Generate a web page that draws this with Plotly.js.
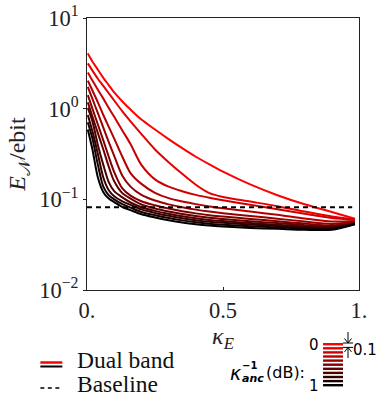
<!DOCTYPE html>
<html><head><meta charset="utf-8">
<script src="https://cdn.plot.ly/plotly-3.0.1.min.js"></script>
<style>html,body{margin:0;padding:0;background:#fff}</style>
</head><body><div id="chart" style="width:377px;height:396px"></div>
<script>
// kappa_E sample points (shared by all curves)
const kappaE = [0.003, 0.02, 0.04, 0.06, 0.08, 0.1, 0.13, 0.16, 0.2, 0.25, 0.3, 0.35, 0.4, 0.45, 0.5, 0.6, 0.7, 0.8, 0.9, 0.985];
// kappa_anc^-1 in dB for each curve
const ancDB = [0, 0.1, 0.2, 0.3, 0.4, 0.5, 0.6, 0.7, 0.8, 0.9, 1.0];
// E_N / ebit for each curve
const EN_00 = [4.07, 3.31, 2.69, 2.19, 1.82, 1.51, 1.20, 0.977, 0.759, 0.589, 0.462, 0.367, 0.295, 0.243, 0.202, 0.146, 0.111, 0.0881, 0.0724, 0.0610];
const EN_01 = [3.16, 2.63, 2.14, 1.78, 1.48, 1.23, 0.933, 0.724, 0.525, 0.355, 0.257, 0.191, 0.145, 0.117, 0.106, 0.0944, 0.0841, 0.0733, 0.0646, 0.0603];
const EN_02 = [2.51, 2.04, 1.62, 1.29, 1.02, 0.813, 0.575, 0.407, 0.240, 0.166, 0.138, 0.123, 0.112, 0.104, 0.0977, 0.0871, 0.0776, 0.0692, 0.0624, 0.0596];
const EN_03 = [2.04, 1.585, 1.175, 0.851, 0.631, 0.468, 0.295, 0.195, 0.148, 0.118, 0.103, 0.0945, 0.0885, 0.0836, 0.0798, 0.0733, 0.0675, 0.0614, 0.0569, 0.0575];
const EN_04 = [1.74, 1.28, 0.891, 0.617, 0.427, 0.302, 0.182, 0.138, 0.112, 0.0970, 0.0880, 0.0818, 0.0770, 0.0733, 0.0703, 0.0655, 0.0612, 0.0569, 0.0536, 0.0561];
const EN_05 = [1.41, 1.00, 0.668, 0.447, 0.295, 0.200, 0.132, 0.110, 0.0953, 0.0859, 0.0791, 0.0740, 0.0700, 0.0668, 0.0646, 0.0607, 0.0574, 0.0540, 0.0516, 0.0553];
const EN_06 = [1.175, 0.820, 0.537, 0.355, 0.229, 0.158, 0.117, 0.102, 0.0877, 0.0794, 0.0735, 0.0689, 0.0653, 0.0625, 0.0607, 0.0574, 0.0547, 0.0519, 0.0502, 0.0548];
const EN_07 = [1.02, 0.724, 0.398, 0.240, 0.155, 0.123, 0.105, 0.0923, 0.0818, 0.0746, 0.0692, 0.0649, 0.0617, 0.0592, 0.0575, 0.0547, 0.0525, 0.0502, 0.0491, 0.0543];
const EN_08 = [0.851, 0.562, 0.316, 0.174, 0.126, 0.108, 0.0951, 0.0867, 0.0774, 0.0708, 0.0658, 0.0618, 0.0589, 0.0566, 0.0551, 0.0527, 0.0508, 0.0490, 0.0482, 0.0540];
const EN_09 = [0.708, 0.468, 0.240, 0.138, 0.111, 0.100, 0.0883, 0.0811, 0.0726, 0.0668, 0.0622, 0.0586, 0.0558, 0.0538, 0.0525, 0.0505, 0.0490, 0.0475, 0.0472, 0.0535];
const EN_10 = [0.589, 0.355, 0.174, 0.120, 0.102, 0.0933, 0.0822, 0.0759, 0.0684, 0.0631, 0.0589, 0.0556, 0.0531, 0.0513, 0.0501, 0.0484, 0.0473, 0.0462, 0.0462, 0.0531];
const curves = [EN_00, EN_01, EN_02, EN_03, EN_04, EN_05, EN_06, EN_07, EN_08, EN_09, EN_10];
// baseline
const baselineK = [0, 0.975];
const baselineEN = [0.082, 0.082];
// ticks
const yTickVals = [0.01, 0.1, 1, 10];
const yTickText = ["10<sup>−2</sup>", "10<sup>−1</sup>", "10<sup>0</sup>", "10<sup>1</sup>"];
const xTickVals = [0, 0.5, 1];
const xTickText = ["0.", "0.5", "1."];
const legendLabels = ["Dual band", "Baseline"];

const colorOf = d => `rgb(${Math.round(255 * (1 - d))},0,0)`;

const traces = curves.map((ys, i) => ({
  x: kappaE, y: ys, type: 'scatter', mode: 'lines',
  line: {color: colorOf(ancDB[i]), width: 2, shape: 'spline', smoothing: 0.8},
  showlegend: false, hoverinfo: 'skip'
}));
traces.push({
  x: baselineK, y: baselineEN, type: 'scatter', mode: 'lines',
  line: {color: '#000', width: 2, dash: '5px,4px'}, showlegend: false
});

// pixel -> paper helpers for the hand-drawn legend
const L = 86.7, R = 359, T = 18, B = 290;
const X = px => (px - L) / (R - L);
const Y = py => (B - py) / (B - T);

const serif = 'Liberation Serif';
const sans = 'DejaVu Sans';

const shapes = [];
const annotations = [];
// Dual band icon
shapes.push({type: 'line', xref: 'paper', yref: 'paper', x0: X(40), x1: X(62), y0: Y(362.5), y1: Y(362.5), line: {color: '#ff0000', width: 2.5}});
shapes.push({type: 'line', xref: 'paper', yref: 'paper', x0: X(40), x1: X(62), y0: Y(366.5), y1: Y(366.5), line: {color: '#000', width: 2}});
// Baseline icon
shapes.push({type: 'line', xref: 'paper', yref: 'paper', x0: X(40), x1: X(61), y0: Y(388), y1: Y(388), line: {color: '#000', width: 1.6, dash: '4px,3.5px'}});
annotations.push({xref: 'paper', yref: 'paper', x: X(75), y: Y(360), xanchor: 'left', yanchor: 'middle', showarrow: false, text: legendLabels[0], font: {family: serif, size: 23.5, color: '#111'}});
annotations.push({xref: 'paper', yref: 'paper', x: X(75), y: Y(384), xanchor: 'left', yanchor: 'middle', showarrow: false, text: legendLabels[1], font: {family: serif, size: 23.5, color: '#111'}});

// color key bars
ancDB.forEach((d, i) => {
  const y0 = 343 + 4.1 * i;
  shapes.push({type: 'rect', xref: 'paper', yref: 'paper', x0: X(323), x1: X(343), y0: Y(y0), y1: Y(y0 + 2.4), line: {width: 0}, fillcolor: colorOf(d)});
});
annotations.push({xref: 'paper', yref: 'paper', x: X(321), y: Y(345), xanchor: 'right', yanchor: 'middle', showarrow: false, text: '0', font: {family: sans, size: 15, color: '#000'}});
annotations.push({xref: 'paper', yref: 'paper', x: X(321), y: Y(386), xanchor: 'right', yanchor: 'middle', showarrow: false, text: '1', font: {family: sans, size: 15, color: '#000'}});
annotations.push({xref: 'paper', yref: 'paper', x: X(351), y: Y(350), xanchor: 'left', yanchor: 'middle', showarrow: false, text: '0.1', font: {family: sans, size: 15, color: '#000'}});
// arrows marking the 0.1 spacing
shapes.push({type: 'line', xref: 'paper', yref: 'paper', x0: X(343), x1: X(353), y0: Y(343), y1: Y(343), line: {color: '#000', width: 1}});
shapes.push({type: 'line', xref: 'paper', yref: 'paper', x0: X(343), x1: X(353), y0: Y(347.4), y1: Y(347.4), line: {color: '#000', width: 1}});
shapes.push({type: 'line', xref: 'paper', yref: 'paper', x0: X(348), x1: X(348), y0: Y(332), y1: Y(343), line: {color: '#000', width: 1}});
shapes.push({type: 'line', xref: 'paper', yref: 'paper', x0: X(348), x1: X(348), y0: Y(347.4), y1: Y(358), line: {color: '#000', width: 1}});
shapes.push({type: 'path', xref: 'paper', yref: 'paper', line: {color: '#000', width: 1},
  path: `M${X(344.5)},${Y(338.5)} L${X(348)},${Y(343)} L${X(351.5)},${Y(338.5)}`});
shapes.push({type: 'path', xref: 'paper', yref: 'paper', line: {color: '#000', width: 1},
  path: `M${X(344.5)},${Y(351.9)} L${X(348)},${Y(347.4)} L${X(351.5)},${Y(351.9)}`});
// kappa_anc^-1 (dB): label
annotations.push({xref: 'paper', yref: 'paper', x: X(228), y: Y(373), xanchor: 'left', yanchor: 'middle', showarrow: false, text: '<i>κ</i>', font: {family: sans, size: 19, color: '#000'}});
annotations.push({xref: 'paper', yref: 'paper', x: X(240), y: Y(365), xanchor: 'left', yanchor: 'middle', showarrow: false, text: '<b>−1</b>', font: {family: sans, size: 10, color: '#000'}});
annotations.push({xref: 'paper', yref: 'paper', x: X(240), y: Y(378), xanchor: 'left', yanchor: 'middle', showarrow: false, text: '<i><b>anc</b></i>', font: {family: sans, size: 11, color: '#000'}});
annotations.push({xref: 'paper', yref: 'paper', x: X(264), y: Y(372), xanchor: 'left', yanchor: 'middle', showarrow: false, text: '(dB):', font: {family: sans, size: 16, color: '#000'}});

const axisCommon = {
  showline: true, mirror: true, linecolor: '#222', linewidth: 1,
  showgrid: false, zeroline: false, ticklen: 3, tickcolor: '#222',
  tickfont: {family: serif, size: 22.5, color: '#222'}
};

const layout = {
  width: 377, height: 396,
  margin: {l: L, r: 377 - R, t: T, b: 396 - B},
  paper_bgcolor: '#fff', plot_bgcolor: '#fff',
  showlegend: false,
  font: {family: serif},
  xaxis: Object.assign({}, axisCommon, {
    range: [0, 1], tickmode: 'array', tickvals: xTickVals, ticktext: xTickText, ticks: 'inside',
    title: {text: '<i>κ<sub>E</sub></i>', font: {family: serif, size: 24, color: '#222'}, standoff: 0}
  }),
  yaxis: Object.assign({}, axisCommon, {
    type: 'log', range: [-2, 1], tickmode: 'array', tickvals: yTickVals, ticktext: yTickText, ticks: 'outside',
    title: {text: '<i>E</i><sub>𝒩</sub>/ebit', font: {family: serif, size: 24, color: '#222'}, standoff: 6}
  }),
  shapes: shapes, annotations: annotations
};

Plotly.newPlot('chart', traces, layout, {staticPlot: true, displayModeBar: false});
</script>
</body></html>
